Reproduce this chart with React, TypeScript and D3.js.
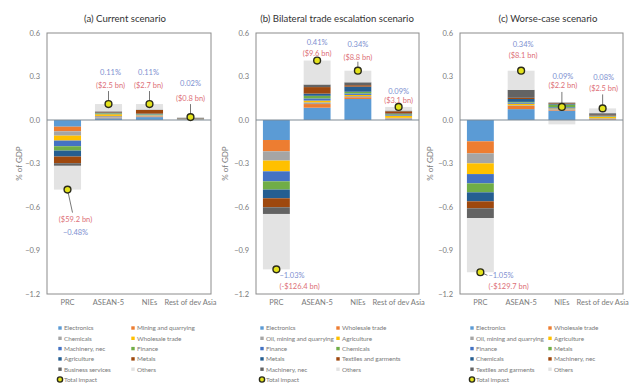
import React from "react";
import * as d3 from "d3";

// Regions on the x axis (shared by the three panels)
const regions = ["PRC", "ASEAN-5", "NIEs", "Rest of dev Asia"];
const yTicks = [0.6, 0.3, 0.0, -0.3, -0.6, -0.9, -1.2];

// (a) Current scenario
const currentTitle = "(a) Current scenario";
const currentSectors = [
  "Electronics", "Mining and quarrying", "Chemicals", "Wholesale trade", "Machinery, nec",
  "Finance", "Agriculture", "Metals", "Business services",
];
const currentValues = [
  [-0.046, -0.032, -0.030, -0.034, -0.039, -0.030, -0.041, -0.046, -0.018],
  [0.012, 0.004, 0.012, 0.012, 0.004, 0.004, 0.004, 0.004, 0.004],
  [0.020, 0.005, 0.005, 0.003, 0.005, 0.003, 0.003, 0.025, 0.003],
  [0.002, 0.001, 0.002, 0.001, 0.002, 0.001, 0.001, 0.002, 0.004],
];
const currentTotals = [-0.48, 0.11, 0.11, 0.02];
const currentUsd = ["($59.2 bn)", "($2.5 bn)", "($2.7 bn)", "($0.8 bn)"];

// (b) Bilateral trade escalation scenario
const bilateralTitle = "(b) Bilateral trade escalation scenario";
const bilateralSectors = [
  "Electronics", "Wholesale trade", "Oil, mining and quarrying", "Agriculture", "Finance",
  "Chemicals", "Metals", "Textiles and garments", "Machinery, nec",
];
const bilateralValues = [
  [-0.138, -0.078, -0.064, -0.074, -0.069, -0.057, -0.060, -0.062, -0.046],
  [0.085, 0.025, 0.012, 0.012, 0.015, 0.018, 0.015, 0.045, 0.018],
  [0.145, 0.012, 0.008, 0.008, 0.010, 0.012, 0.035, 0.010, 0.020],
  [0.005, 0.005, 0.005, 0.015, 0.005, 0.005, 0.005, 0.015, 0.005],
];
const bilateralTotals = [-1.03, 0.41, 0.34, 0.09];
const bilateralUsd = ["(-$126.4 bn)", "($9.6 bn)", "($8.8 bn)", "($3.1 bn)"];

// (c) Worse-case scenario
const worseTitle = "(c) Worse-case scenario";
const worseSectors = [
  "Electronics", "Wholesale trade", "Oil, mining and quarrying", "Agriculture", "Finance",
  "Metals", "Chemicals", "Machinery, nec", "Textiles and garments",
];
const worseValues = [
  [-0.147, -0.083, -0.069, -0.074, -0.064, -0.062, -0.062, -0.048, -0.067],
  [0.075, 0.022, 0.005, 0.010, 0.008, 0.005, 0.020, 0.008, 0.055],
  [0.065, 0.005, 0.005, 0.005, 0.008, 0.018, 0.004, 0.005, 0.005],
  [0.003, 0.004, 0.005, 0.010, 0.003, 0.003, 0.003, 0.004, 0.012],
];
const worseTotals = [-1.05, 0.34, 0.09, 0.08];
const worseUsd = ["(-$129.7 bn)", "($8.1 bn)", "($2.2 bn)", "($2.5 bn)"];

// Styling
const palette = [
  "#5b9bd5", "#ed7d31", "#a5a5a5", "#ffc000", "#4472c4",
  "#70ad47", "#255e91", "#9e480e", "#636363",
];
const othersColor = "#e3e3e3";
const FONT = "Lato, 'Open Sans', sans-serif";
const PCT_COLOR = "#7d8fd0";
const USD_COLOR = "#dd6f78";
const TEXT_COLOR = "#7a7a7a";

type LabelLayout = { dx: number; pct: number; usd: number; anchor: string; lead: [number, number] | null };

const panels = [
  {
    title: currentTitle, sectors: currentSectors, values: currentValues,
    totals: currentTotals, usd: currentUsd,
    x0: 47, x1: 211, axisLabelX: 22, titleX: 125, legendX: [60, 133],
    labels: [
      { dx: 8, pct: 45, usd: 32, anchor: "middle", lead: [5, 23] },
      { dx: 2, pct: -29.5, usd: -16.5, anchor: "middle", lead: [0, -13] },
      { dx: -1, pct: -29.5, usd: -16.5, anchor: "middle", lead: [0, -13] },
      { dx: 0, pct: -31.5, usd: -16.5, anchor: "middle", lead: [0, -13] },
    ] as LabelLayout[],
  },
  {
    title: bilateralTitle, sectors: bilateralSectors, values: bilateralValues,
    totals: bilateralTotals, usd: bilateralUsd,
    x0: 256, x1: 419, axisLabelX: 228, titleX: 337, legendX: [262, 338],
    labels: [
      { dx: 3, pct: 9, usd: 20, anchor: "start", lead: null },
      { dx: 0, pct: -16, usd: -5, anchor: "middle", lead: null },
      { dx: 0, pct: -24, usd: -11, anchor: "middle", lead: [0, -9] },
      { dx: 0, pct: -12.5, usd: -4, anchor: "middle", lead: null },
    ] as LabelLayout[],
  },
  {
    title: worseTitle, sectors: worseSectors, values: worseValues,
    totals: worseTotals, usd: worseUsd,
    x0: 460, x1: 623, axisLabelX: 433, titleX: 548, legendX: [472, 550],
    labels: [
      { dx: 8, pct: 5.5, usd: 16.5, anchor: "start", lead: [7, 3] },
      { dx: 2, pct: -24, usd: -13, anchor: "middle", lead: null },
      { dx: 1, pct: -27.5, usd: -18.5, anchor: "middle", lead: [0, -15] },
      { dx: 1, pct: -28, usd: -17, anchor: "middle", lead: [0, -14] },
    ] as LabelLayout[],
  },
];

const Y_TOP = 33;
const Y_BOTTOM = 294;
const y = d3.scaleLinear().domain([-1.2, 0.6]).range([Y_BOTTOM, Y_TOP]);
const pctFmt = d3.format(".2f");

function Marker({ cx, cy, r = 3.4 }: { cx: number; cy: number; r?: number }) {
  return <circle cx={cx} cy={cy} r={r} fill="#e4e31c" stroke="#2a2a1a" strokeWidth={1.4} />;
}

function Panel({ p }: { p: (typeof panels)[number] }) {
  const x = d3.scaleBand<string>().domain(regions).range([p.x0, p.x1]).paddingInner(0.34).paddingOuter(0.17);
  const keys = [...p.sectors, "Others"];
  const rows = regions.map((r, i) => {
    const row: Record<string, number | string> = { region: r };
    p.sectors.forEach((s, j) => (row[s] = p.values[i][j]));
    row["Others"] = p.totals[i] - d3.sum(p.values[i]);
    return row;
  });
  const series = d3
    .stack<Record<string, number | string>>()
    .keys(keys)
    .value((d, k) => d[k] as number)
    .offset(d3.stackOffsetDiverging)(rows);
  const color = (k: string) => (k === "Others" ? othersColor : palette[p.sectors.indexOf(k)]);
  const legendItems = [...keys, "Total impact"];
  const midY = (Y_TOP + Y_BOTTOM) / 2;

  return (
    <g>
      <text x={p.titleX} y={22} textAnchor="middle" fontSize={9.6} fill="#333" fontFamily={FONT}>
        {p.title}
      </text>
      {/* bars */}
      {series.map((s) => (
        <g key={s.key} fill={color(s.key)}>
          {s.map((d, i) => (
            <rect
              key={i}
              x={x(regions[i])}
              width={x.bandwidth()}
              y={y(Math.max(d[0], d[1]))}
              height={Math.abs(y(d[0]) - y(d[1]))}
            />
          ))}
        </g>
      ))}
      {/* frame and zero line */}
      <rect x={p.x0} y={Y_TOP} width={p.x1 - p.x0} height={Y_BOTTOM - Y_TOP} fill="none" stroke="#8c8c8c" strokeWidth={1} />
      <line x1={p.x0} x2={p.x1} y1={y(0)} y2={y(0)} stroke="#7f8a94" strokeWidth={1.2} />
      {/* y axis */}
      {yTicks.map((t) => (
        <text key={t} x={p.x0 - 7} y={y(t) + 2.5} textAnchor="end" fontSize={7.5} fill={TEXT_COLOR} fontFamily={FONT}>
          {d3.format(".1f")(t)}
        </text>
      ))}
      <text
        transform={`translate(${p.axisLabelX},${midY}) rotate(-90)`}
        textAnchor="middle"
        fontSize={8}
        fill={TEXT_COLOR}
        fontFamily={FONT}
      >
        % of GDP
      </text>
      {/* x axis labels */}
      {regions.map((r) => (
        <text key={r} x={x(r)! + x.bandwidth() / 2} y={305} textAnchor="middle" fontSize={7.5} fill={TEXT_COLOR} fontFamily={FONT}>
          {r}
        </text>
      ))}
      {/* total impact markers with value labels */}
      {regions.map((r, i) => {
        const cx = x(r)! + x.bandwidth() / 2;
        const cy = y(p.totals[i]);
        const l = p.labels[i];
        return (
          <g key={r}>
            {l.lead && (
              <line x1={cx} y1={cy} x2={cx + l.lead[0]} y2={cy + l.lead[1]} stroke="#555" strokeWidth={0.8} />
            )}
            <Marker cx={cx} cy={cy} />
            <text x={cx + l.dx} y={cy + l.pct} textAnchor={l.anchor} fontSize={7.5} fill={PCT_COLOR} fontFamily={FONT}>
              {pctFmt(p.totals[i])}%
            </text>
            <text x={cx + l.dx} y={cy + l.usd} textAnchor={l.anchor} fontSize={7.5} fill={USD_COLOR} fontFamily={FONT}>
              {p.usd[i]}
            </text>
          </g>
        );
      })}
      {/* legend */}
      {legendItems.map((k, i) => {
        const lx = p.legendX[i % 2];
        const ly = 328 + Math.floor(i / 2) * 10.3;
        return (
          <g key={k}>
            {k === "Total impact" ? (
              <Marker cx={lx} cy={ly} r={2.6} />
            ) : (
              <rect x={lx - 1.7} y={ly - 1.7} width={3.4} height={3.4} fill={color(k)} />
            )}
            <text x={lx + 4} y={ly + 2.3} fontSize={6.4} letterSpacing={-0.1} fill={TEXT_COLOR} fontFamily={FONT}>
              {k}
            </text>
          </g>
        );
      })}
    </g>
  );
}

export default function App() {
  return (
    <svg
      width={637}
      height={391}
      viewBox="0 0 637 391"
      style={{ position: "absolute", left: 0, top: 0, background: "#fff" }}
    >
      <rect width={637} height={391} fill="#fff" />
      {panels.map((p) => (
        <Panel key={p.title} p={p} />
      ))}
    </svg>
  );
}
